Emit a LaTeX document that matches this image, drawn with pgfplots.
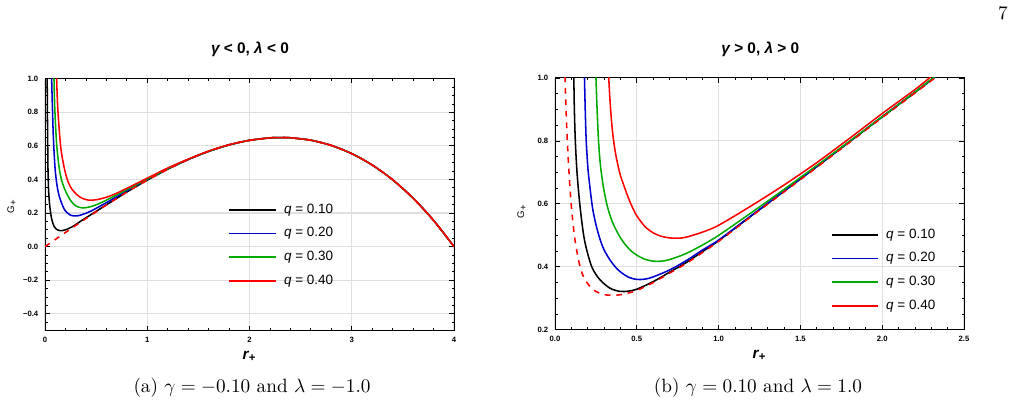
\documentclass[border=0pt]{standalone}
\usepackage{pgfplots}
\pgfplotsset{compat=1.18}
\usepackage{fontspec}
\newfontfamily\arial{Liberation Sans}
\definecolor{mblue}{RGB}{0,0,205}
\definecolor{mgreen}{RGB}{0,170,0}
\definecolor{mred}{RGB}{255,0,0}
\pgfplotsset{
 panel/.style={
  scale only axis, width=212.7pt, height=131pt,
  axis line style={line width=0.5pt},
  tick align=inside,
  major tick length=2.4pt, minor tick length=1.3pt,
  every tick/.style={black, line width=0.4pt},
  grid=major, major grid style={gray!25, line width=0.6pt},
  tick label style={font=\arial\bfseries\fontsize{4}{4}\selectfont},
  legend cell align=left,
  legend style={draw=none, fill=none, inner sep=0pt, font=\arial\fontsize{7}{8}\selectfont,
    row sep=5.9pt, column sep=3.6pt, nodes={inner sep=0pt, text height=5pt, text depth=1.4pt}},
  legend image code/.code={\draw[#1, solid, line width=0.85pt] (0pt,0pt) -- (24.4pt,0pt);},
  every axis plot/.append style={line width=0.8pt},
  title style={font=\arial\bfseries\fontsize{8}{9}\selectfont, anchor=center},
  xlabel style={font=\arial\bfseries\itshape\fontsize{8}{9}\selectfont, anchor=center},
  ylabel style={font=\arial\fontsize{5}{6}\selectfont, anchor=center},
 }
}
\begin{document}
\begin{tikzpicture}
\path (0pt,0pt) rectangle (528.32pt,211.64pt);
\node at (521.56pt,205.4pt) {7};
\node at (131.04pt,10.5pt) {(a) $\gamma = -0.10$ and $\lambda = -1.0$};
\node at (394.16pt,10.5pt) {(b) $\gamma = 0.10$ and $\lambda = 1.0$};

\begin{axis}[panel, at={(23.4pt,40.3pt)}, anchor=south west,
  xmin=0, xmax=4, ymin=-0.5, ymax=1.0,
  xtick={0,1,2,3,4}, xticklabels={0,1,2,3,4},
  minor xtick={0.2,0.4,...,3.9},
  ytick={-0.4,-0.2,0,0.2,0.4,0.6,0.8,1.0},
  yticklabels={−0.4,−0.2,0.0,0.2,0.4,0.6,0.8,1.0},
  minor ytick={-0.45,-0.35,-0.3,-0.25,-0.15,-0.1,-0.05,0.05,0.1,0.15,0.25,0.3,0.35,0.45,0.5,0.55,0.65,0.7,0.75,0.85,0.9,0.95},
  title={{\itshape γ} < 0, {\itshape λ} < 0},
  title style={at={(axis description cs:0.501,1.069)}},
  xlabel={r\textsubscript{+}},
  xlabel style={at={(axis description cs:0.5,-0.101)}},
  ylabel={G\textsubscript{+}},
  ylabel style={at={(axis description cs:-0.081,0.494)}},
  legend style={at={(axis cs:1.792,0.008)}, anchor=west},
]
\addplot[black, smooth] table {
0.021 1.02
0.023 0.85
0.026 0.636
0.029 0.47
0.032 0.39
0.035 0.335
0.046 0.245
0.065 0.165
0.09 0.12
0.12 0.1
0.15 0.095
0.2 0.1
0.277 0.122
0.35 0.152
0.44 0.187
0.5 0.21
0.6 0.249
0.7 0.287
0.8 0.325
0.9 0.361
1.0 0.396
1.2 0.4608
1.4 0.5184
1.6 0.5672
1.8 0.6058
2.0 0.6330
2.2 0.6475
2.3 0.6497
2.4 0.6481
2.6 0.6336
2.8 0.6025
3.0 0.5537
3.2 0.4859
3.4 0.3980
3.6 0.2883
3.8 0.1560
4.0 0.0
};
\addlegendentry{{\itshape q} = 0.10}
\addplot[mblue, smooth] table {
0.064 1.02
0.072 0.84
0.082 0.65
0.098 0.47
0.115 0.375
0.131 0.32
0.15 0.28
0.175 0.24
0.2 0.212
0.25 0.187
0.3 0.183
0.35 0.188
0.45 0.212
0.6 0.262
0.8 0.332
1.0 0.400
1.2 0.463
1.4 0.519
1.6 0.5672
1.8 0.6058
2.0 0.6330
2.2 0.6475
2.3 0.6497
2.4 0.6481
2.6 0.6336
2.8 0.6025
3.0 0.5537
3.2 0.4859
3.4 0.3980
3.6 0.2883
3.8 0.1560
4.0 0.0
};
\addlegendentry{{\itshape q} = 0.20}
\addplot[mgreen, smooth] table {
0.087 1.02
0.095 0.834
0.111 0.636
0.128 0.52
0.147 0.437
0.17 0.38
0.2 0.332
0.25 0.275
0.3 0.243
0.366 0.2305
0.45 0.2386
0.55 0.262
0.7 0.3075
0.85 0.355
1.0 0.402
1.2 0.464
1.4 0.52
1.6 0.5672
1.8 0.6058
2.0 0.6330
2.2 0.6475
2.3 0.6497
2.4 0.6481
2.6 0.6336
2.8 0.6025
3.0 0.5537
3.2 0.4859
3.4 0.3980
3.6 0.2883
3.8 0.1560
4.0 0.0
};
\addlegendentry{{\itshape q} = 0.30}
\addplot[mred, smooth] table {
0.113 1.02
0.124 0.834
0.147 0.636
0.167 0.537
0.199 0.44
0.23 0.38
0.26 0.345
0.31 0.31
0.36 0.289
0.424 0.277
0.5 0.279
0.6 0.294
0.7 0.318
0.8 0.347
0.9 0.377
1.0 0.408
1.2 0.468
1.4 0.521
1.6 0.569
1.8 0.607
2.0 0.6330
2.2 0.6475
2.3 0.6497
2.4 0.6481
2.6 0.6336
2.8 0.6025
3.0 0.5537
3.2 0.4859
3.4 0.3980
3.6 0.2883
3.8 0.1560
4.0 0.0
};
\addlegendentry{{\itshape q} = 0.40}
\addplot[mred, dashed, smooth, forget plot] table {
0 0
0.1 0.0422
0.2 0.0842
0.3 0.1259
0.4 0.1671
0.5 0.2077
0.6 0.2475
0.7 0.2864
0.8 0.3241
0.9 0.3606
1.0 0.3956
1.2 0.4608
1.4 0.5184
1.6 0.5672
1.8 0.6058
2.0 0.6330
2.2 0.6475
2.3 0.6497
2.4 0.6481
2.6 0.6336
2.8 0.6025
3.0 0.5537
3.2 0.4859
3.4 0.3980
3.6 0.2883
3.8 0.1560
4.0 0.0
};
\end{axis}

\begin{axis}[panel, at={(288.6pt,40.71pt)}, anchor=south west,
  xmin=0, xmax=2.5, ymin=0.2, ymax=1.0,
  xtick={0,0.5,1,1.5,2,2.5}, xticklabels={0.0,0.5,1.0,1.5,2.0,2.5},
  minor x tick num=4,
  ytick={0.2,0.4,0.6,0.8,1.0}, yticklabels={0.2,0.4,0.6,0.8,1.0},
  minor y tick num=3,
  title={{\itshape γ} > 0, {\itshape λ} > 0},
  title style={at={(axis description cs:0.502,1.066)}},
  xlabel={r\textsubscript{+}},
  xlabel style={at={(axis description cs:0.5,-0.101)}},
  ylabel={G\textsubscript{+}},
  ylabel style={at={(axis description cs:-0.081,0.47)}},
  legend style={at={(axis cs:1.683,0.389)}, anchor=west},
]
\addplot[black, smooth] table {
0.115 1.005
0.118 0.909
0.124 0.803
0.135 0.697
0.153 0.592
0.180 0.486
0.224 0.401
0.275 0.359
0.337 0.332
0.398 0.322
0.450 0.323
0.500 0.329
0.600 0.353
0.700 0.383
0.800 0.413
0.900 0.448
1.000 0.483
1.200 0.562
1.400 0.640
1.600 0.718
1.800 0.797
2.000 0.876
2.200 0.954
2.328 1.005
};
\addlegendentry{{\itshape q} = 0.10}
\addplot[mblue, smooth] table {
0.180 1.005
0.184 0.915
0.190 0.810
0.197 0.745
0.204 0.697
0.228 0.592
0.250 0.535
0.275 0.488
0.300 0.454
0.337 0.421
0.370 0.399
0.400 0.384
0.450 0.367
0.500 0.360
0.550 0.361
0.600 0.368
0.700 0.390
0.800 0.419
0.900 0.453
1.000 0.485
1.200 0.563
1.400 0.641
1.600 0.719
1.800 0.798
2.000 0.877
2.200 0.955
2.326 1.005
};
\addlegendentry{{\itshape q} = 0.20}
\addplot[mgreen, smooth] table {
0.250 1.005
0.254 0.945
0.259 0.878
0.265 0.810
0.272 0.755
0.280 0.712
0.290 0.673
0.300 0.641
0.320 0.592
0.350 0.543
0.388 0.503
0.420 0.477
0.460 0.453
0.500 0.437
0.550 0.424
0.600 0.418
0.650 0.418
0.700 0.423
0.800 0.442
0.900 0.469
1.000 0.500
1.200 0.572
1.400 0.646
1.600 0.722
1.800 0.799
2.000 0.877
2.200 0.955
2.322 1.005
};
\addlegendentry{{\itshape q} = 0.30}
\addplot[mred, smooth] table {
0.328 1.005
0.336 0.930
0.346 0.860
0.357 0.805
0.370 0.760
0.385 0.722
0.400 0.690
0.430 0.645
0.460 0.604
0.500 0.562
0.550 0.528
0.600 0.508
0.650 0.497
0.700 0.492
0.750 0.491
0.800 0.494
0.900 0.510
1.000 0.532
1.200 0.594
1.400 0.660
1.600 0.731
1.800 0.808
2.000 0.887
2.200 0.963
2.300 1.005
};
\addlegendentry{{\itshape q} = 0.40}
\addplot[mred, dashed, smooth, forget plot] table {
0.061 1.005
0.067 0.909
0.075 0.803
0.086 0.697
0.100 0.592
0.122 0.486
0.153 0.401
0.184 0.359
0.235 0.327
0.300 0.312
0.377 0.310
0.450 0.317
0.500 0.325
0.600 0.350
0.700 0.380
0.800 0.410
0.900 0.445
1.000 0.481
1.200 0.560
1.400 0.638
1.600 0.716
1.800 0.795
2.000 0.874
2.200 0.952
2.330 1.003
};
\end{axis}
\end{tikzpicture}
\end{document}
